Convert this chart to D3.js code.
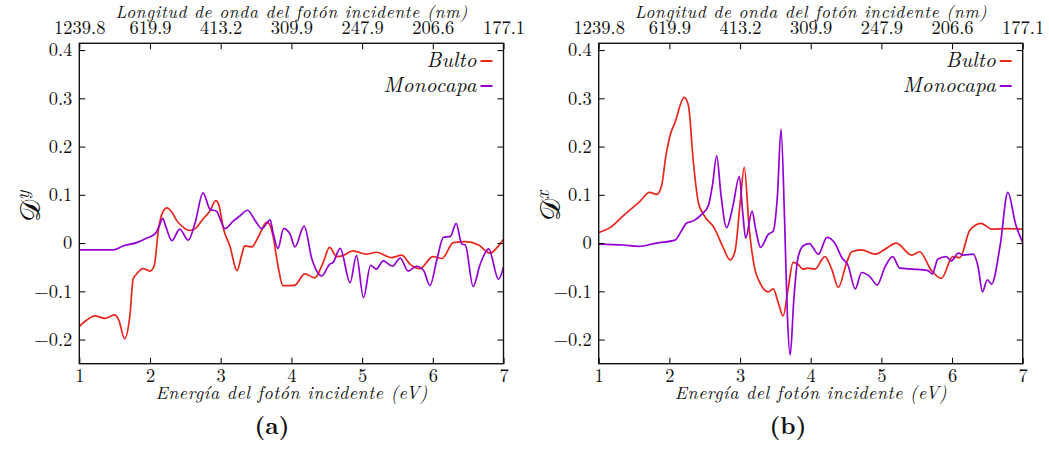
<!DOCTYPE html>
<html><head><meta charset="utf-8">
<script src="https://cdn.jsdelivr.net/npm/d3@7"></script>
<style>body{margin:0;background:#fff}svg{display:block}</style>
</head><body>
<svg id="c" width="1049" height="449"></svg>
<script>
const energyTicks = [1,2,3,4,5,6,7];
const wavelengthLabels = ["1239.8","619.9","413.2","309.9","247.9","206.6","177.1"];
const yTicks = [-0.2,-0.1,0,0.1,0.2,0.3,0.4];
const seriesNames = ["Bulto","Monocapa"];
const seriesColors = ["#e8261c","#9400d3"];

const bultoA = [[1.00,-0.173],[1.10,-0.160],[1.22,-0.151],[1.36,-0.156],[1.50,-0.149],[1.56,-0.160],[1.64,-0.198],[1.72,-0.144],[1.76,-0.075],[1.81,-0.064],[1.90,-0.053],[2.00,-0.058],[2.06,-0.047],[2.12,0.029],[2.18,0.064],[2.24,0.073],[2.31,0.064],[2.38,0.046],[2.47,0.033],[2.56,0.026],[2.64,0.030],[2.75,0.050],[2.85,0.067],[2.93,0.088],[2.97,0.081],[3.04,0.029],[3.13,-0.006],[3.23,-0.057],[3.30,-0.023],[3.34,-0.006],[3.44,-0.008],[3.53,0.012],[3.65,0.043],[3.69,0.039],[3.74,0.015],[3.81,-0.047],[3.88,-0.088],[3.98,-0.088],[4.05,-0.087],[4.19,-0.064],[4.33,-0.072],[4.45,-0.040],[4.54,-0.009],[4.64,-0.028],[4.73,-0.026],[4.87,-0.016],[5.06,-0.023],[5.20,-0.019],[5.42,-0.030],[5.56,-0.025],[5.68,-0.044],[5.82,-0.053],[6.00,-0.028],[6.13,-0.032],[6.29,0.001],[6.46,0.003],[6.65,-0.004],[6.81,-0.021],[6.91,-0.009],[7.00,0.008]];
const monocapaA = [[1.00,-0.014],[1.48,-0.014],[1.62,-0.006],[1.81,0.001],[1.95,0.010],[2.07,0.019],[2.13,0.035],[2.18,0.051],[2.22,0.036],[2.31,0.005],[2.42,0.029],[2.54,0.006],[2.64,0.043],[2.75,0.104],[2.85,0.070],[2.94,0.066],[3.06,0.030],[3.18,0.046],[3.27,0.056],[3.38,0.068],[3.49,0.046],[3.58,0.030],[3.70,0.048],[3.74,0.022],[3.81,-0.011],[3.89,0.030],[3.98,0.019],[4.05,-0.008],[4.18,0.035],[4.29,-0.033],[4.43,-0.068],[4.54,-0.044],[4.59,-0.040],[4.69,-0.011],[4.83,-0.082],[4.92,-0.026],[5.02,-0.113],[5.12,-0.046],[5.20,-0.054],[5.30,-0.037],[5.43,-0.048],[5.54,-0.031],[5.65,-0.058],[5.77,-0.048],[5.87,-0.057],[5.96,-0.088],[6.06,-0.033],[6.15,0.012],[6.25,0.014],[6.33,0.041],[6.41,-0.002],[6.46,-0.004],[6.57,-0.090],[6.67,-0.044],[6.79,-0.012],[6.93,-0.075],[7.00,-0.050]];
const bultoB = [[1.00,0.022],[1.16,0.032],[1.35,0.057],[1.58,0.086],[1.72,0.105],[1.82,0.101],[1.89,0.119],[1.95,0.180],[2.01,0.223],[2.08,0.250],[2.21,0.302],[2.27,0.285],[2.34,0.167],[2.41,0.084],[2.48,0.060],[2.64,0.030],[2.76,-0.009],[2.86,-0.035],[2.93,-0.016],[3.00,0.080],[3.06,0.157],[3.13,0.030],[3.21,-0.054],[3.28,-0.082],[3.40,-0.101],[3.47,-0.095],[3.54,-0.123],[3.61,-0.151],[3.68,-0.095],[3.75,-0.040],[3.82,-0.044],[3.89,-0.054],[3.96,-0.052],[4.06,-0.054],[4.20,-0.028],[4.30,-0.055],[4.39,-0.092],[4.51,-0.040],[4.58,-0.018],[4.72,-0.014],[4.91,-0.023],[5.07,-0.011],[5.21,0.000],[5.43,-0.025],[5.54,-0.018],[5.71,-0.057],[5.85,-0.073],[6.01,-0.028],[6.11,-0.030],[6.25,0.026],[6.41,0.041],[6.56,0.029],[6.77,0.030],[7.00,0.029]];
const monocapaB = [[1.00,-0.002],[1.35,-0.004],[1.57,-0.007],[1.82,0.000],[2.08,0.006],[2.17,0.025],[2.24,0.041],[2.34,0.046],[2.46,0.060],[2.55,0.077],[2.61,0.120],[2.67,0.181],[2.73,0.100],[2.81,0.032],[2.90,0.077],[2.99,0.138],[3.04,0.060],[3.08,0.010],[3.17,0.066],[3.22,0.030],[3.29,-0.009],[3.40,0.018],[3.47,0.025],[3.53,0.100],[3.58,0.236],[3.63,0.050],[3.67,-0.150],[3.71,-0.232],[3.76,-0.120],[3.82,-0.030],[3.90,-0.005],[3.98,-0.001],[4.11,-0.023],[4.23,0.012],[4.34,0.000],[4.44,-0.030],[4.53,-0.047],[4.63,-0.095],[4.72,-0.061],[4.84,-0.070],[4.94,-0.087],[5.05,-0.050],[5.16,-0.028],[5.26,-0.052],[5.45,-0.054],[5.66,-0.057],[5.72,-0.064],[5.80,-0.033],[5.92,-0.028],[5.99,-0.037],[6.09,-0.021],[6.16,-0.025],[6.30,-0.023],[6.37,-0.050],[6.43,-0.101],[6.50,-0.076],[6.56,-0.085],[6.68,-0.006],[6.79,0.105],[6.90,0.039],[7.00,0.001]];

const FONT = '"Latin Modern Roman", "Liberation Serif", serif';
const panels = [
  {x0:79.3, x1:503.5, ylab:"y", tag:"(a)", tagX:272, series:[bultoA, monocapaA]},
  {x0:598.7, x1:1022.7, ylab:"x", tag:"(b)", tagX:788, series:[bultoB, monocapaB]}
];
const svg = d3.select("#c");
const yTop = 43.3, yBot = 363.7;

panels.forEach((p, i) => {
  const x = d3.scaleLinear().domain([1,7]).range([p.x0, p.x1]);
  const y = d3.scaleLinear().domain([-0.25, 0.414]).range([yBot, yTop]);
  const g = svg.append("g");
  const cid = "clip" + i;
  svg.append("defs").append("clipPath").attr("id", cid).append("rect")
    .attr("x", p.x0).attr("y", yTop).attr("width", p.x1 - p.x0).attr("height", yBot - yTop);

  const line = d3.line().x(d => x(d[0])).y(d => y(d[1])).curve(d3.curveMonotoneX);
  p.series.forEach((s, k) => {
    g.append("path").attr("d", line(s)).attr("fill", "none")
      .attr("stroke", seriesColors[k]).attr("stroke-width", 1.7)
      .attr("clip-path", `url(#${cid})`);
  });

  const fmtY = d => d === 0 ? "0" : d3.format(".1f")(d).replace("-", "\u2212");
  const ax = (a) => a.call(s => s.select(".domain").remove())
    .call(s => s.selectAll("line").attr("stroke", "#111").attr("stroke-width", 1.1))
    .call(s => s.selectAll("text").style("font-family", FONT).style("font-size", "18.5px").attr("fill", "#111"));

  g.append("g").attr("transform", `translate(0,${yBot})`)
    .call(d3.axisBottom(x).tickValues(energyTicks).tickFormat(d3.format("d")).tickSize(-6).tickPadding(5)).call(ax);
  g.append("g").attr("transform", `translate(0,${yTop})`)
    .call(d3.axisTop(x).tickValues(energyTicks).tickFormat((d, j) => wavelengthLabels[j]).tickSize(-6).tickPadding(9.5)).call(ax);
  g.append("g").attr("transform", `translate(${p.x0},0)`)
    .call(d3.axisLeft(y).tickValues(yTicks).tickFormat(fmtY).tickSize(-6).tickPadding(7)).call(ax);
  g.append("g").attr("transform", `translate(${p.x1},0)`)
    .call(d3.axisRight(y).tickValues(yTicks).tickFormat("").tickSize(-6)).call(ax);

  g.append("rect").attr("x", p.x0).attr("y", yTop).attr("width", p.x1 - p.x0).attr("height", yBot - yTop)
    .attr("fill", "none").attr("stroke", "#111").attr("stroke-width", 1.4);

  const cx = (p.x0 + p.x1) / 2;
  const t = (sel) => sel.style("font-family", FONT).attr("fill", "#111");
  g.append("text").call(t).attr("x", cx).attr("y", 17.5).attr("text-anchor", "middle")
    .style("font-style", "italic").style("font-size", "17.5px")
    .attr("textLength", 352).attr("lengthAdjust", "spacing")
    .text("Longitud de onda del fotón incidente (nm)");
  g.append("text").call(t).attr("x", cx).attr("y", 399).attr("text-anchor", "middle")
    .style("font-style", "italic").style("font-size", "18px")
    .attr("textLength", 272).attr("lengthAdjust", "spacing")
    .text("Energía del fotón incidente (eV)");
  g.append("text").call(t).attr("x", p.tagX).attr("y", 434).attr("text-anchor", "middle")
    .style("font-weight", "bold").style("font-size", "24px").text(p.tag);

  const yl = g.append("text").attr("fill", "#111").attr("transform", `translate(${p.x0 - 39},206) rotate(-90)`)
    .attr("text-anchor", "middle").style("font-size", "28px");
  yl.append("tspan").style("font-family", '"DejaVu Serif", serif').text("\u{1D49F}");
  yl.append("tspan").style("font-family", FONT).style("font-size", "19px").style("font-style", "italic").attr("dy", -11).text(p.ylab);

  seriesNames.forEach((n, k) => {
    const ly = 61 + k * 25;
    g.append("text").call(t).attr("x", p.x1 - 27).attr("y", ly + 6).attr("text-anchor", "end")
      .style("font-style", "italic").style("font-size", "21px")
      .attr("textLength", k === 0 ? 50 : 93).attr("lengthAdjust", "spacing").text(n);
    g.append("line").attr("x1", p.x1 - 23).attr("x2", p.x1 - 11).attr("y1", ly).attr("y2", ly)
      .attr("stroke", seriesColors[k]).attr("stroke-width", 2);
  });
});
</script>
</body></html>
